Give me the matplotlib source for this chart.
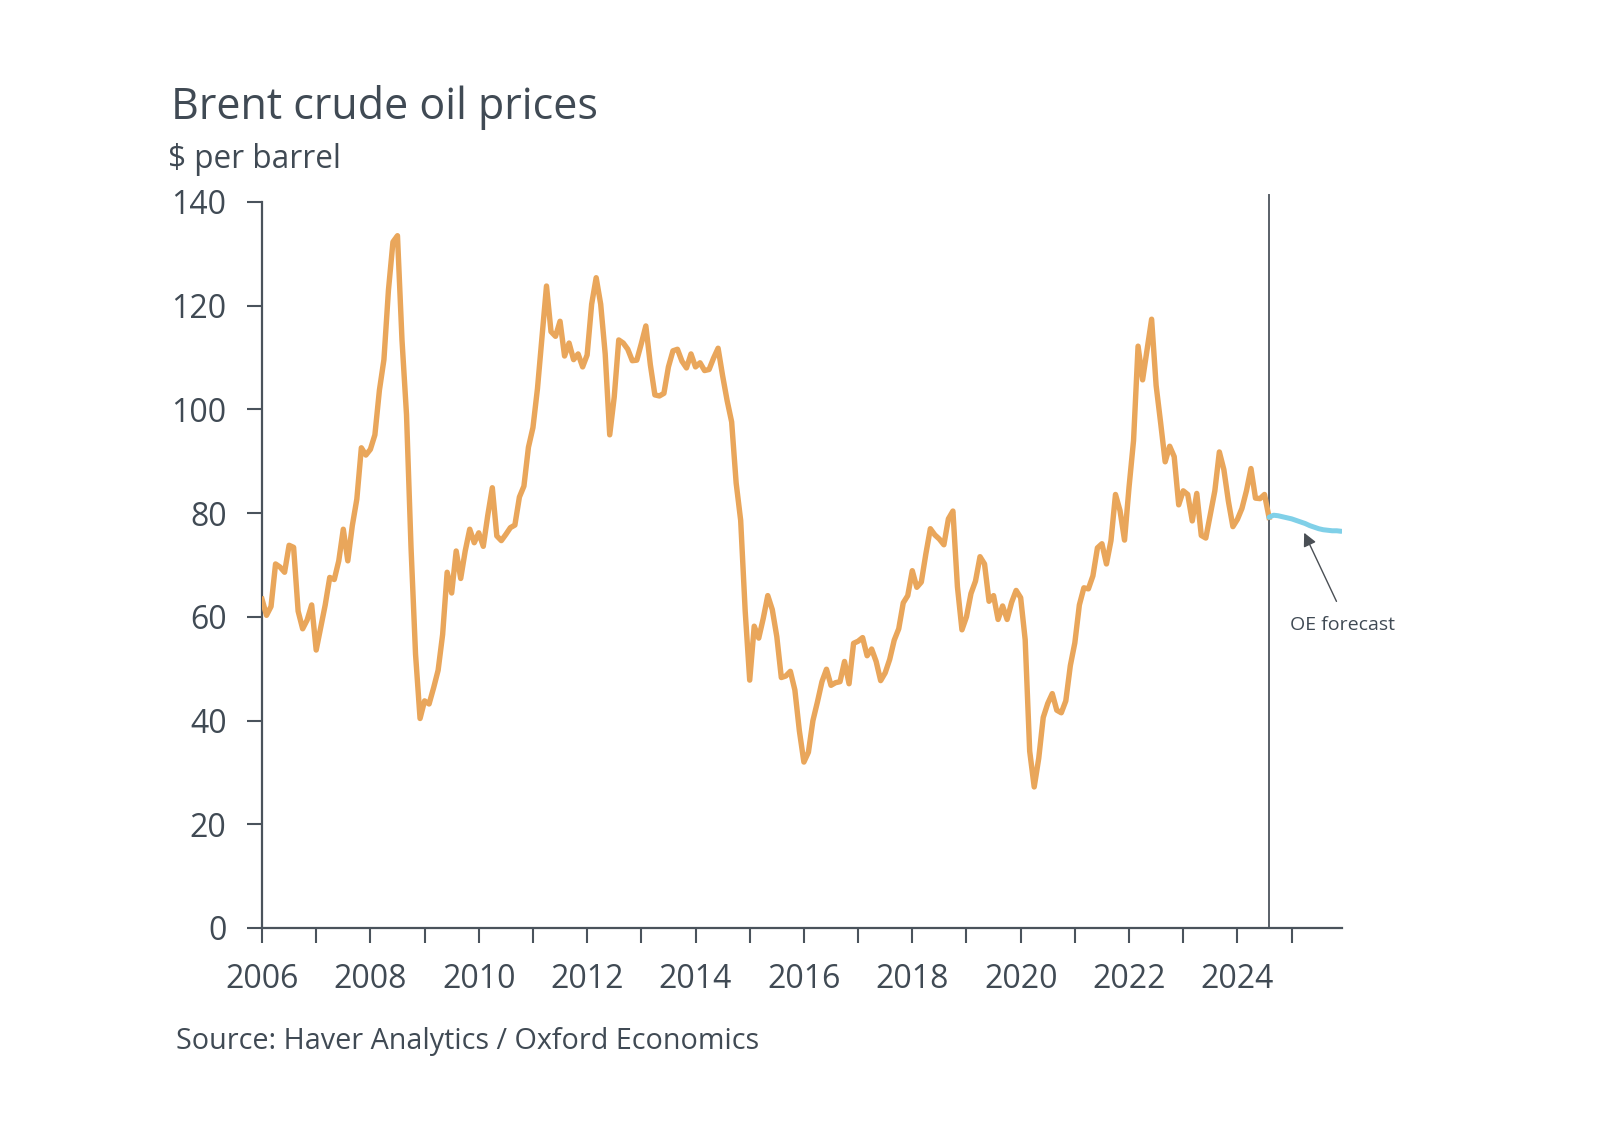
import matplotlib

matplotlib.use("Agg")
import matplotlib.pyplot as plt
import numpy as np

plt.rcParams["font.family"] = ["Open Sans", "DejaVu Sans"]

# Brent monthly average, $ per barrel, Jan 2006 .. Aug 2024
brent = [
    63.4, 60.3, 62.0, 70.2, 69.6, 68.6, 73.8, 73.4, 61.1, 57.7, 59.4, 62.3,  # 2006
    53.6, 58.0, 62.3, 67.6, 67.2, 70.8, 76.9, 70.8, 77.6, 82.7, 92.6, 91.2,  # 2007
    92.3, 95.1, 103.7, 109.6, 123.0, 132.3, 133.5, 113.4, 99.0, 73.4, 52.8, 40.4,  # 2008
    43.8, 43.2, 46.3, 49.7, 56.6, 68.6, 64.6, 72.7, 67.4, 72.7, 76.9, 74.3,  # 2009
    76.2, 73.6, 79.6, 84.9, 75.6, 74.7, 75.9, 77.2, 77.7, 83.1, 85.2, 92.7,  # 2010
    96.5, 104.0, 114.0, 123.8, 115.0, 114.1, 117.0, 110.3, 112.8, 109.6, 110.7, 108.2,  # 2011
    110.5, 120.3, 125.4, 120.3, 110.7, 95.1, 102.4, 113.4, 112.8, 111.6, 109.4, 109.5,  # 2012
    112.7, 116.1, 108.6, 102.8, 102.6, 103.1, 108.2, 111.3, 111.6, 109.3, 108.0, 110.7,  # 2013
    108.2, 109.0, 107.5, 107.7, 109.9, 111.8, 106.5, 101.7, 97.6, 85.8, 78.6, 61.1,  # 2014
    47.8, 58.2, 55.9, 59.7, 64.1, 61.4, 56.2, 48.3, 48.6, 49.5, 45.9, 38.0,  # 2015
    32.0, 33.9, 40.0, 43.6, 47.5, 49.9, 46.8, 47.3, 47.5, 51.4, 47.1, 54.9,  # 2016
    55.3, 56.0, 52.5, 53.8, 51.4, 47.7, 49.2, 51.8, 55.5, 57.7, 62.7, 64.1,  # 2017
    68.9, 65.7, 66.7, 72.1, 77.0, 75.8, 75.0, 73.9, 78.9, 80.4, 65.8, 57.5,  # 2018
    60.0, 64.5, 66.9, 71.6, 70.2, 63.0, 64.1, 59.5, 62.1, 59.5, 62.8, 65.1,  # 2019
    63.7, 55.6, 34.1, 27.2, 32.7, 40.6, 43.3, 45.2, 42.0, 41.5, 43.8, 50.6,  # 2020
    55.0, 62.3, 65.6, 65.4, 67.9, 73.3, 74.1, 70.2, 74.7, 83.6, 80.5, 74.8,  # 2021
    85.0, 94.0, 112.2, 105.7, 111.5, 117.4, 104.6, 97.4, 89.9, 92.9, 90.9, 81.6,  # 2022
    84.3, 83.6, 78.5, 83.8, 75.7, 75.2, 79.8, 84.3, 91.8, 88.4, 82.3, 77.4,  # 2023
    78.8, 80.9, 84.3, 88.6, 82.9, 82.8, 83.6, 79.2,  # 2024
]

# OE forecast, Aug 2024 .. Dec 2025
forecast = [79.2, 79.6, 79.5, 79.3, 79.1, 78.9, 78.6, 78.3, 78.0,
            77.6, 77.3, 77.0, 76.8, 76.7, 76.6, 76.6, 76.5]

year_ticks = list(range(2006, 2026))
y_ticks = [0, 20, 40, 60, 80, 100, 120, 140]

TEXT = "#404a54"
AXIS = "#4a535c"
ORANGE = "#e9a65b"
BLUE = "#80d0e8"

x_hist = 2006 + np.arange(len(brent)) / 12
x_fc = x_hist[-1] + np.arange(len(forecast)) / 12

fig = plt.figure(figsize=(16, 11.31), dpi=100)
ax = fig.add_axes([262 / 1600, 1 - 928 / 1131, 1080 / 1600, 726 / 1131])

ax.plot(x_hist, brent, color=ORANGE, lw=3.9, solid_joinstyle="round", zorder=3)
ax.plot(x_fc, forecast, color=BLUE, lw=3.6, solid_capstyle="round", zorder=3)
ax.plot([x_hist[-1], x_hist[-1]], [0, 141.3], color="#5a6068", lw=1.4,
        clip_on=False, zorder=2)

ax.set_xlim(2006, 2025.93)
ax.set_ylim(0, 140)
ax.set_xticks(year_ticks)
ax.set_xticklabels([str(y) if y % 2 == 0 else "" for y in year_ticks])
ax.set_yticks(y_ticks)
ax.tick_params(axis="both", colors=AXIS, labelcolor=TEXT, labelsize=23,
               length=10.5, width=1.5, pad=15, direction="out")

for side in ("top", "right"):
    ax.spines[side].set_visible(False)
for side in ("left", "bottom"):
    ax.spines[side].set_color(AXIS)
    ax.spines[side].set_linewidth(1.6)

ax.annotate("", xy=(2025.21, 76.7), xytext=(2025.85, 62.5),
            arrowprops=dict(arrowstyle="-|>", color="#4a4f55", lw=1.0,
                            mutation_scale=20), annotation_clip=False)
fig.text(1343 / 1600, 1 - 630 / 1131, "OE forecast", ha="center", va="baseline",
         fontsize=14, color=TEXT)

fig.text(171 / 1600, 1 - 119 / 1131, "Brent crude oil prices", fontsize=31,
         color=TEXT, va="baseline")
fig.text(168 / 1600, 1 - 168 / 1131, "$ per barrel", fontsize=22.7,
         color=TEXT, va="baseline")
fig.text(176 / 1600, 1 - 1049 / 1131, "Source: Haver Analytics / Oxford Economics",
         fontsize=20.7, color=TEXT, va="baseline")

fig.savefig("out.png", dpi=100, facecolor="white")
